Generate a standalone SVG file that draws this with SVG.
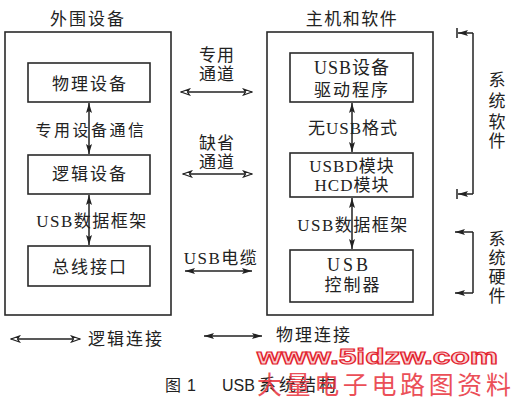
<svg xmlns="http://www.w3.org/2000/svg" width="514" height="401" viewBox="0 0 514 401">
<defs>
<style>
.box{fill:none;stroke:#2a2a2a;stroke-width:1.6}
.ln{fill:none;stroke:#222;stroke-width:1.5}
.t{font-family:"Liberation Serif","Noto Sans CJK SC",serif;font-size:17px;fill:#222;text-anchor:middle;dominant-baseline:central}
.cap{font-family:"Liberation Sans","Noto Sans CJK SC",sans-serif;font-size:16px;fill:#222;dominant-baseline:central}
.wm1{font-family:"Liberation Sans",sans-serif;font-weight:bold;font-size:22px;fill:#f8d2d4;stroke:#e3242f;stroke-width:1.1;dominant-baseline:central}
.wm2{font-family:"Noto Sans CJK SC",sans-serif;font-size:25px;fill:#e8313b;dominant-baseline:central;opacity:0.85}
</style>
<marker id="sa" viewBox="0 0 10 6" refX="10" refY="3" markerWidth="10" markerHeight="6" markerUnits="userSpaceOnUse" orient="auto-start-reverse">
<path d="M0,0 L10,3 L0,6 L2,3 z" fill="#222"/>
</marker>
<marker id="ha" viewBox="0 0 11 8" refX="10" refY="4" markerWidth="11" markerHeight="8" markerUnits="userSpaceOnUse" orient="auto-start-reverse">
<path d="M1.5,1 L10,4 L1.5,7 L3.5,4 z" fill="#fff" stroke="#222" stroke-width="1.2"/>
</marker>
</defs>
<rect width="514" height="401" fill="#fff"/>

<g id="peripheral">
<text class="t" x="88" y="19" style="letter-spacing:2px">外围设备</text>
<rect class="box" x="5" y="32" width="166" height="283"/>
</g>
<g id="physical-device">
<rect class="box" x="28" y="63" width="122" height="39"/>
<text class="t" x="90" y="84" style="letter-spacing:2px">物理设备</text>
</g>
<g id="logical-device">
<rect class="box" x="28" y="155" width="122" height="39"/>
<text class="t" x="90" y="174" style="letter-spacing:2px">逻辑设备</text>
</g>
<g id="bus-interface">
<rect class="box" x="28" y="246" width="122" height="40"/>
<text class="t" x="90" y="267" style="letter-spacing:2px">总线接口</text>
</g>

<g id="host">
<text class="t" x="352" y="19" style="letter-spacing:1.5px">主机和软件</text>
<rect class="box" x="267" y="32" width="166" height="283"/>
</g>
<g id="usb-driver">
<rect class="box" x="290" y="53" width="123" height="49"/>
<text class="t" x="352" y="68" style="font-size:18px;letter-spacing:1px">USB设备</text>
<text class="t" x="352" y="90" style="letter-spacing:2px">驱动程序</text>
</g>
<g id="usbd-hcd">
<rect class="box" x="290" y="153" width="123" height="44"/>
<text class="t" x="352" y="166" style="letter-spacing:1px">USBD模块</text>
<text class="t" x="352" y="185" style="letter-spacing:1px">HCD模块</text>
</g>
<g id="usb-controller">
<rect class="box" x="290" y="250" width="123" height="52"/>
<text class="t" x="349" y="265" style="font-size:18px;letter-spacing:3px">USB</text>
<text class="t" x="353" y="285" style="letter-spacing:2px">控制器</text>
</g>

<g id="connectors">
<line class="ln" x1="89" y1="103" x2="89" y2="154" marker-start="url(#sa)" marker-end="url(#sa)"/>
<line class="ln" x1="89" y1="195" x2="89" y2="245" marker-start="url(#sa)" marker-end="url(#sa)"/>
<line class="ln" x1="352" y1="103" x2="352" y2="152" marker-start="url(#sa)" marker-end="url(#sa)"/>
<line class="ln" x1="352" y1="198" x2="352" y2="249" marker-start="url(#sa)" marker-end="url(#sa)"/>
<line class="ln" x1="181" y1="92" x2="252" y2="92" marker-start="url(#ha)" marker-end="url(#ha)"/>
<line class="ln" x1="183" y1="174" x2="252" y2="174" marker-start="url(#ha)" marker-end="url(#ha)"/>
<line class="ln" x1="185" y1="271" x2="252" y2="271" marker-start="url(#sa)" marker-end="url(#sa)"/>
<path class="ln" d="M457,28 V38 M473,33 H458" marker-end="url(#sa)"/>
<line class="ln" x1="473" y1="33" x2="473" y2="194"/>
<line class="ln" x1="473" y1="194" x2="458" y2="194" marker-end="url(#sa)"/>
<line class="ln" x1="457" y1="189" x2="457" y2="199"/>
<line class="ln" x1="473" y1="232" x2="455" y2="232" marker-end="url(#sa)"/>
<line class="ln" x1="473" y1="232" x2="473" y2="293"/>
<line class="ln" x1="473" y1="293" x2="455" y2="293" marker-end="url(#sa)"/>
<line class="ln" x1="11" y1="339" x2="80" y2="339" marker-start="url(#ha)" marker-end="url(#ha)"/>
<line class="ln" x1="204" y1="336" x2="262" y2="336" marker-start="url(#sa)" marker-end="url(#sa)"/>
</g>

<g id="labels">
<text class="t" x="91" y="130" style="font-size:16px;letter-spacing:2.5px">专用设备通信</text>
<text class="t" x="92" y="221" style="letter-spacing:1.5px">USB数据框架</text>
<text class="t" x="353" y="128" style="letter-spacing:1px">无USB格式</text>
<text class="t" x="353" y="225" style="letter-spacing:1.5px">USB数据框架</text>
<text class="t" x="217" y="55" style="letter-spacing:1px">专用</text>
<text class="t" x="217" y="74" style="letter-spacing:1px">通道</text>
<text class="t" x="217" y="143" style="letter-spacing:1px">缺省</text>
<text class="t" x="217" y="162" style="letter-spacing:1px">通道</text>
<text class="t" x="221" y="258" style="letter-spacing:1.5px">USB电缆</text>
<text class="t" x="497" y="80">系</text>
<text class="t" x="497" y="101">统</text>
<text class="t" x="497" y="122">软</text>
<text class="t" x="497" y="141">件</text>
<text class="t" x="497" y="239">系</text>
<text class="t" x="497" y="258">统</text>
<text class="t" x="497" y="277">硬</text>
<text class="t" x="497" y="296">件</text>
<text class="t" x="126" y="339" style="letter-spacing:2px">逻辑连接</text>
<text class="t" x="314" y="335" style="letter-spacing:2px">物理连接</text>
</g>

<g id="caption">
<text class="cap" x="165" y="385">图</text>
<text class="cap" x="187" y="385">1</text>
<text class="cap" x="222" y="385">USB</text>
<text class="cap" x="259" y="385" style="font-size:17px;letter-spacing:3px">系统结构</text>
</g>

<g id="watermark">
<text class="wm1" x="257" y="356" textLength="241" lengthAdjust="spacingAndGlyphs">www.5idzw.com</text>
<text class="wm2" x="257" y="383" textLength="254" lengthAdjust="spacing">大量电子电路图资料</text>
</g>
</svg>
